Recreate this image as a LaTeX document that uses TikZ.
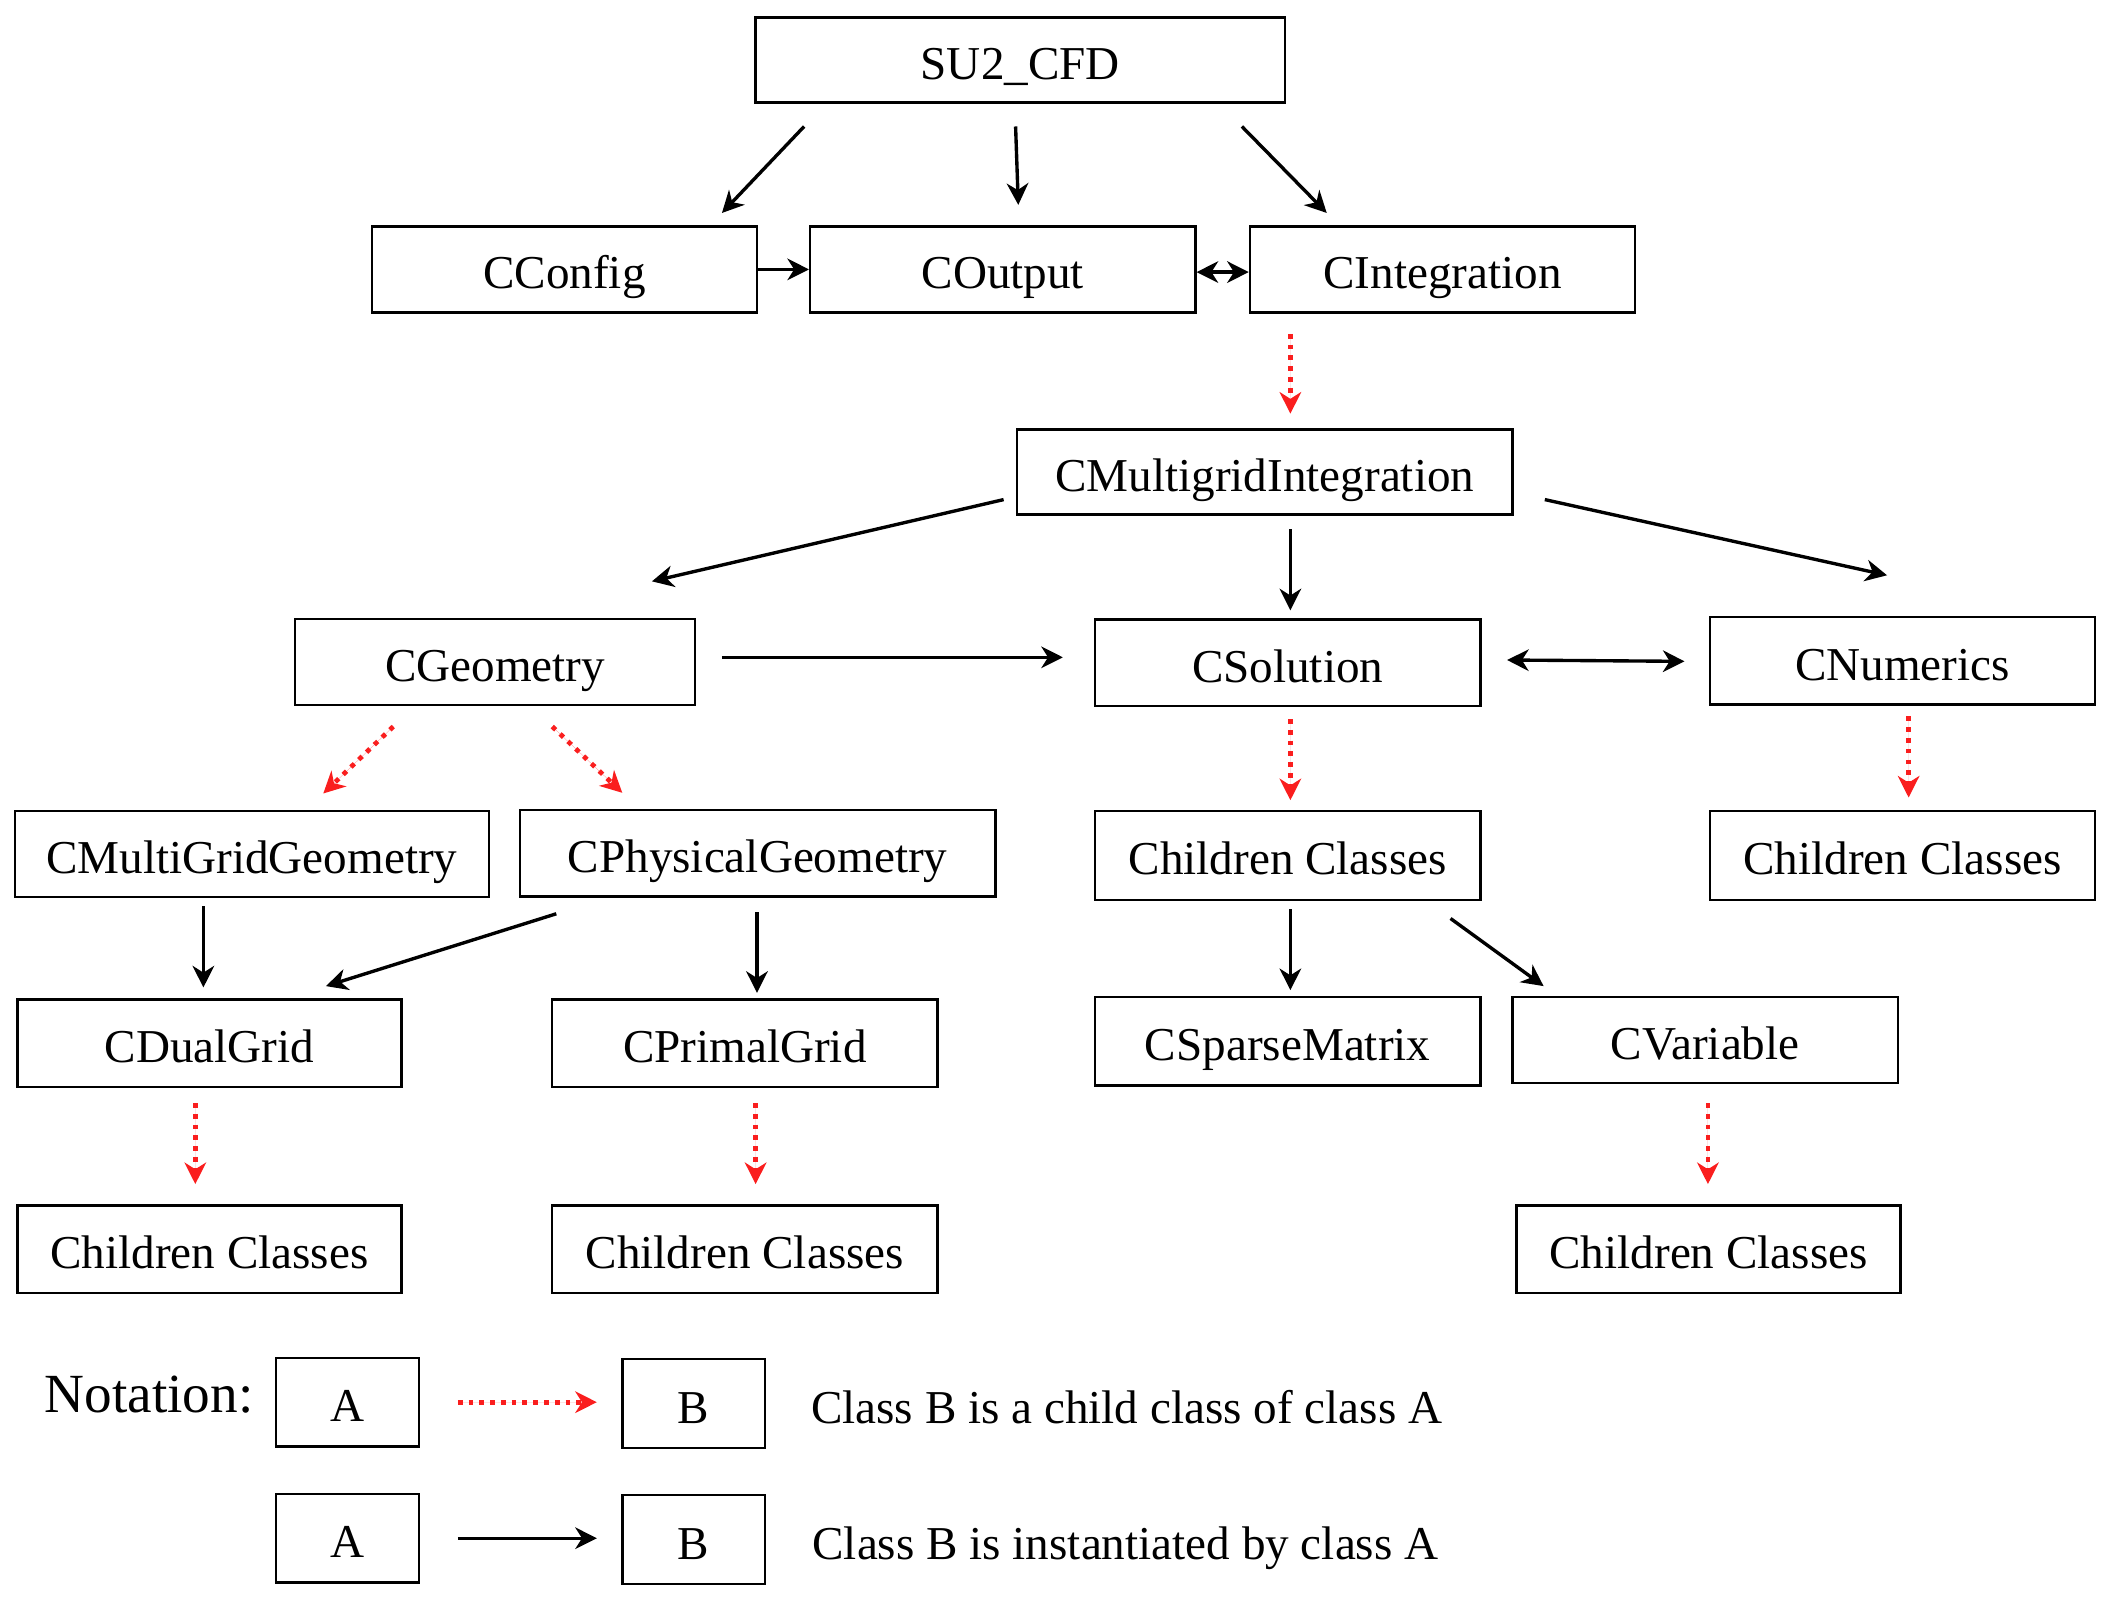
\documentclass[tikz,border=0pt]{standalone}
\usepackage{fontspec}
\setmainfont{Liberation Serif}
\usetikzlibrary{arrows.meta}
\definecolor{childred}{RGB}{250,30,30}
\begin{document}
\begin{tikzpicture}[x=1pt,y=-1pt,
	>={Stealth[length=16pt,width=16pt,inset=5pt]},
	cls/.style={draw, line width=1.8pt, minimum width=286pt, minimum height=64pt, inner sep=0pt,
		text height=29pt, text depth=0pt, font=\fontsize{35}{40}\selectfont},
	note/.style={cls, minimum width=106pt, minimum height=66pt},
	inst/.style={->, line width=2.5pt},
	child/.style={->, draw=childred, fill=childred, line width=3.5pt, dash pattern=on 3.5pt off 4.5pt}]

	\useasboundingbox (0,0) rectangle (1568,1186);

	% class boxes
	\node[cls, minimum width=393pt, minimum height=63pt] (su2) at (757.5,44.5) {SU2\_CFD};
	\node[cls] (cconfig) at (419,200) {CConfig};
	\node[cls] (coutput) at (744.5,200) {COutput};
	\node[cls] (cint) at (1071,200) {CIntegration};
	\node[cls, minimum width=368pt, minimum height=63pt] (cmi) at (939,350.5) {CMultigridIntegration};
	\node[cls, minimum width=297pt] (cgeo) at (367.5,491.5) {CGeometry};
	\node[cls] (csol) at (956,492) {CSolution};
	\node[cls, minimum height=65pt] (cnum) at (1412.5,490.5) {CNumerics};
	\node[cls, minimum width=352pt] (cmgg) at (187,634) {CMultiGridGeometry};
	\node[cls, minimum width=353pt] (cpg) at (562.5,633.5) {CPhysicalGeometry};
	\node[cls, minimum height=66pt] (chsol) at (956,635) {Children Classes};
	\node[cls, minimum height=66pt] (chnum) at (1412.5,635) {Children Classes};
	\node[cls, minimum width=285pt, minimum height=65pt] (cdual) at (155.5,774.5) {CDualGrid};
	\node[cls, minimum height=65pt] (cprimal) at (553,774.5) {CPrimalGrid};
	\node[cls, minimum height=66pt] (csparse) at (956,773) {CSparseMatrix};
	\node[cls] (cvar) at (1266,772) {CVariable};
	\node[cls, minimum width=285pt, minimum height=65pt] (chdual) at (155.5,927.5) {Children Classes};
	\node[cls, minimum height=65pt] (chprim) at (553,927.5) {Children Classes};
	\node[cls, minimum width=285pt, minimum height=65pt] (chvar) at (1268.5,927.5) {Children Classes};

	% instantiation
	\draw[inst] ([shift={(-160.5,17)}]su2.south) -- ([shift={(117,-9)}]cconfig.north);
	\draw[inst] ([shift={(-3.5,17)}]su2.south) -- ([shift={(11.5,-15)}]coutput.north);
	\draw[inst] ([shift={(164.5,17)}]su2.south) -- ([shift={(-86,-9)}]cint.north);
	\draw[inst] (cconfig.east) -- (coutput.west);
	\draw[inst, <->] ([yshift=-2pt]coutput.east) -- ([yshift=-2pt]cint.west);
	\draw[inst] ([shift={(-9,-12)}]cmi.south west) -- ([shift={(116.5,-27)}]cgeo.north);
	\draw[inst] ([shift={(19,10)}]cmi.south) -- ([shift={(2,-6)}]csol.north);
	\draw[inst] ([shift={(23,-12)}]cmi.south east) -- ([shift={(-11.5,-30)}]cnum.north);
	\draw[inst] ([shift={(19,-3.5)}]cgeo.east) -- ([shift={(-23,-4)}]csol.west);
	\draw[inst, <->] ([shift={(19,-2)}]csol.east) -- ([shift={(-18,0.5)}]cnum.west);
	\draw[inst] ([shift={(-36,6)}]cmgg.south) -- ([shift={(-4.5,-8)}]cdual.north);
	\draw[inst] ([shift={(-149.5,12)}]cpg.south) -- ([shift={(86.5,-9)}]cdual.north);
	\draw[inst] ([shift={(-0.5,11)}]cpg.south) -- ([shift={(9,-4)}]cprimal.north);
	\draw[inst] ([shift={(2,6)}]chsol.south) -- ([shift={(2,-4)}]csparse.north);
	\draw[inst] ([shift={(-23,13)}]chsol.south east) -- ([shift={(-120,-7)}]cvar.north);

	% inheritance
	\draw[child] ([shift={(-113,15)}]cint.south) -- ([shift={(19,-11)}]cmi.north);
	\draw[child] ([shift={(-75.5,15)}]cgeo.south) -- ([shift={(53,-12)}]cmgg.north);
	\draw[child] ([shift={(42.5,15)}]cgeo.south) -- ([shift={(-100.5,-12)}]cpg.north);
	\draw[child] ([shift={(2,9)}]csol.south) -- ([shift={(2,-7)}]chsol.north);
	\draw[child] ([shift={(4.5,8)}]cnum.south) -- ([shift={(4.5,-9)}]chnum.north);
	\draw[child] ([shift={(-10.5,11)}]cdual.south) -- ([shift={(-10.5,-15)}]chdual.north);
	\draw[child] ([shift={(8,11)}]cprimal.south) -- ([shift={(8,-15)}]chprim.north);
	\draw[child] ([shift={(2,14)}]cvar.south) -- ([shift={(-0.5,-15)}]chvar.north);

	% notation
	\node[anchor=base west, inner sep=0pt, font=\fontsize{41}{46}\selectfont] (notetitle) at (33,1049) {Notation:};
	\node[note] (na1) at (258,1041) {A};
	\node[note] (nb1) at (515,1042) {B};
	\node[note] (na2) at (258,1142) {A};
	\node[note] (nb2) at (515,1143) {B};
	\draw[child, shorten <=28pt, shorten >=18pt] (na1.east) -- (na1.east -| nb1.west);
	\draw[inst, shorten <=28pt, shorten >=18pt] (na2.east) -- (na2.east -| nb2.west);
	\node[anchor=base west, inner sep=0pt, font=\fontsize{35}{40}\selectfont] (notechild) at (602,1056.5) {Class B is a child class of class A};
	\node[anchor=base west, inner sep=0pt, font=\fontsize{35}{40}\selectfont] (noteinst) at (603,1157.5) {Class B is instantiated by class A};
\end{tikzpicture}
\end{document}
